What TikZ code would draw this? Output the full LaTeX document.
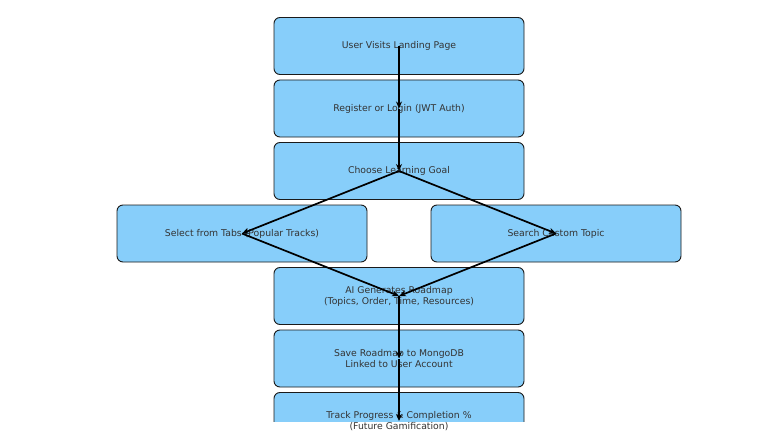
\documentclass[tikz,border=0pt]{standalone}
\usepackage{fontspec}
\setmainfont{DejaVu Sans}
\usetikzlibrary{arrows.meta}
\definecolor{boxfill}{HTML}{87CEFA}
\definecolor{boxedge}{HTML}{1A1A1A}
\definecolor{txt}{HTML}{333333}
\begin{document}
\begin{tikzpicture}[x=1pt,y=-1pt,
  stepbox/.style={draw=boxedge,line width=0.9pt,fill=boxfill,rounded corners=6pt,
    minimum width=250pt,minimum height=57pt,inner sep=0pt,
    font=\fontsize{9.3}{11}\selectfont,text=txt,align=center},
  plain/.style={font=\fontsize{9.3}{11}\selectfont,text=txt,align=center,inner sep=0pt},
  flow/.style={-{Stealth[length=7pt,width=6pt]},line width=1.7pt,black}]
\useasboundingbox (0,0) rectangle (771,436);
\fill[white] (0,0) rectangle (771,436);
\node[stepbox] (visit) at (399,46) {User Visits Landing Page};
\node[stepbox] (login) at (399,108.5) {Register or Login (JWT Auth)};
\node[stepbox] (goal) at (399,171) {Choose Learning Goal};
\node[stepbox] (tabs) at (242,233.5) {Select from Tabs (Popular Tracks)};
\node[stepbox] (search) at (556,233.5) {Search Custom Topic};
\node[stepbox] (ai) at (399,296) {AI Generates Roadmap\\(Topics, Order, Time, Resources)};
\node[stepbox] (save) at (399,358.5) {Save Roadmap to MongoDB\\Linked to User Account};
\begin{scope}
\clip (0,0) rectangle (771,421);
\node[stepbox] (trackbox) at (399,421) {};
\end{scope}
\node[plain] (track) at (399,421) {Track Progress \& Completion \%\\(Future Gamification)};
\draw[flow] (visit.center) -- (login.center);
\draw[flow] (login.center) -- (goal.center);
\draw[flow] (goal.center) -- (tabs.center);
\draw[flow] (goal.center) -- (search.center);
\draw[flow] (tabs.center) -- (ai.center);
\draw[flow] (search.center) -- (ai.center);
\draw[flow] (ai.center) -- (save.center);
\draw[flow] (save.center) -- (track.center);
\end{tikzpicture}
\end{document}
